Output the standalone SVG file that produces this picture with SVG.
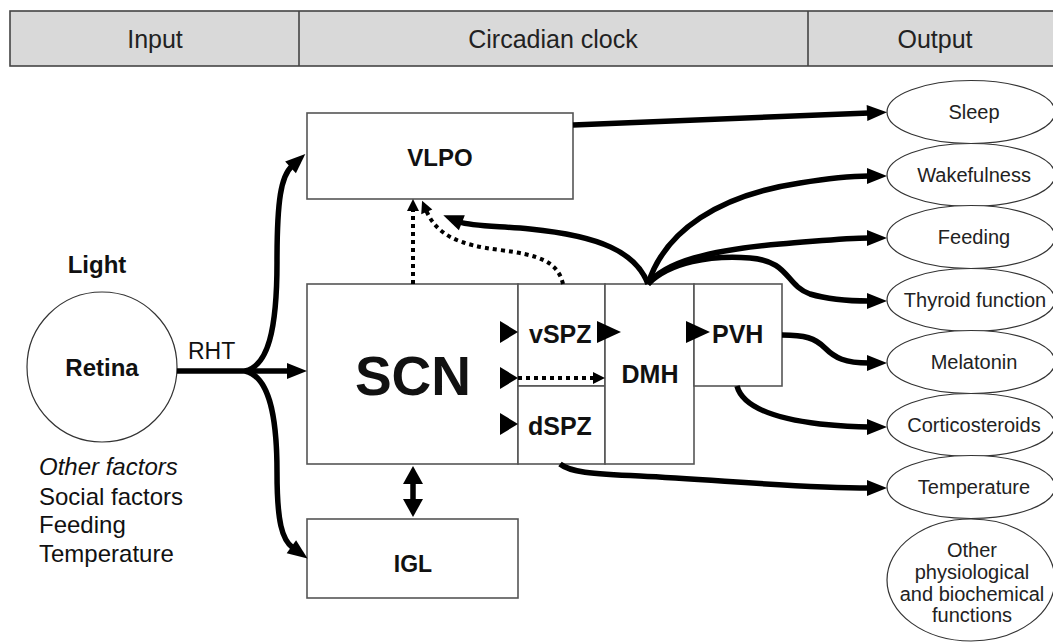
<svg xmlns="http://www.w3.org/2000/svg" width="1053" height="642" viewBox="0 0 1053 642">
<style>
text{font-family:"Liberation Sans",Arial,sans-serif;fill:#111}
.hd{font-size:25px;text-anchor:middle;fill:#222}
.box{fill:#fff;stroke:#555;stroke-width:1.6}
.b{font-weight:bold;text-anchor:middle}
.ell{fill:#fff;stroke:#333;stroke-width:1.2}
.et{font-size:20px;text-anchor:middle;fill:#222}
.thick{fill:none;stroke:#000;stroke-width:5.5}
.dot{fill:none;stroke:#000;stroke-width:4;stroke-dasharray:4 4}
.tri{fill:#000}
</style>
<defs>
<marker id="ah" markerUnits="userSpaceOnUse" markerWidth="22" markerHeight="18" refX="2" refY="8" orient="auto" overflow="visible"><path d="M0,0 L20,8 L0,16 z" fill="#000"/></marker>
<marker id="ah2" markerUnits="userSpaceOnUse" markerWidth="22" markerHeight="22" refX="2" refY="10" orient="auto-start-reverse" overflow="visible"><path d="M0,0 L18,10 L0,20 z" fill="#000"/></marker>
<marker id="ahs" markerUnits="userSpaceOnUse" markerWidth="14" markerHeight="14" refX="2" refY="6" orient="auto" overflow="visible"><path d="M0,0 L12,6 L0,12 z" fill="#000"/></marker>
</defs>

<g id="header">
<rect x="10" y="11" width="1060" height="55" fill="#d9d9d9" stroke="#444" stroke-width="1.6"/>
<line x1="299" y1="11" x2="299" y2="66" stroke="#444" stroke-width="1.6"/>
<line x1="808" y1="11" x2="808" y2="66" stroke="#444" stroke-width="1.6"/>
<text class="hd" x="155" y="48">Input</text>
<text class="hd" x="553" y="48">Circadian clock</text>
<text class="hd" x="935" y="48">Output</text>
</g>

<g id="light"><text class="b" x="97" y="273" font-size="24">Light</text></g>
<g id="retina">
<circle cx="102" cy="367" r="75" fill="#fff" stroke="#333" stroke-width="1.2"/>
<text class="b" x="102" y="376" font-size="24">Retina</text>
</g>
<g id="rht"><text x="188" y="359" font-size="23">RHT</text></g>
<g id="other-factors" font-size="24">
<text x="39" y="475" font-style="italic">Other factors</text>
<text x="39" y="505">Social factors</text>
<text x="39" y="533">Feeding</text>
<text x="39" y="562">Temperature</text>
</g>

<g id="vlpo"><rect class="box" x="307" y="113" width="266" height="86"/><text class="b" x="440" y="166" font-size="24">VLPO</text></g>
<g id="scn"><rect class="box" x="307" y="284" width="211" height="180"/><text class="b" x="413" y="395" font-size="55">SCN</text></g>
<g id="vspz"><rect class="box" x="518" y="284" width="87" height="102"/><text x="529" y="343" font-size="25" font-weight="bold">vSPZ</text></g>
<g id="dspz"><rect class="box" x="518" y="386" width="87" height="78"/><text x="528" y="435" font-size="25" font-weight="bold">dSPZ</text></g>
<g id="dmh"><rect class="box" x="605" y="284" width="89" height="180"/><text class="b" x="650" y="383" font-size="25">DMH</text></g>
<g id="pvh"><rect class="box" x="694" y="284" width="88" height="102"/><text x="712" y="343" font-size="25" font-weight="bold">PVH</text></g>
<g id="igl"><rect class="box" x="307" y="519" width="211" height="79"/><text class="b" x="413" y="572" font-size="23">IGL</text></g>

<g id="out-sleep"><ellipse class="ell" cx="971" cy="112" rx="84" ry="31.5"/><text class="et" x="974" y="119">Sleep</text></g>
<g id="out-wakefulness"><ellipse class="ell" cx="971" cy="175" rx="84" ry="31.5"/><text class="et" x="974" y="182">Wakefulness</text></g>
<g id="out-feeding"><ellipse class="ell" cx="971" cy="237" rx="84" ry="31.5"/><text class="et" x="974" y="244">Feeding</text></g>
<g id="out-thyroid"><ellipse class="ell" cx="971" cy="300" rx="84" ry="31.5"/><text class="et" x="975" y="307">Thyroid function</text></g>
<g id="out-melatonin"><ellipse class="ell" cx="971" cy="362" rx="84" ry="31.5"/><text class="et" x="974" y="369">Melatonin</text></g>
<g id="out-corticosteroids"><ellipse class="ell" cx="971" cy="425" rx="84" ry="31.5"/><text class="et" x="974" y="432">Corticosteroids</text></g>
<g id="out-temperature"><ellipse class="ell" cx="971" cy="487" rx="84" ry="31.5"/><text class="et" x="974" y="494">Temperature</text></g>
<g id="out-other"><ellipse class="ell" cx="971" cy="580" rx="84" ry="61"/>
<text class="et" x="972" y="557">Other</text>
<text class="et" x="972" y="579">physiological</text>
<text class="et" x="972" y="601">and biochemical</text>
<text class="et" x="972" y="622">functions</text>
</g>

<g id="connectors">
<path class="thick" d="M177,371 L245,371"/>
<path class="thick" d="M245,371 L289,371" marker-end="url(#ah)"/>
<path class="thick" d="M245,371 C268,366 277,330 277,262 C277,200 281,176 292,166" marker-end="url(#ah)"/>
<path class="thick" d="M245,371 C268,376 277,412 277,472 C277,522 282,540 293,548" marker-end="url(#ah)"/>
<path class="thick" d="M413,482 L413,501" marker-start="url(#ah2)" marker-end="url(#ah2)"/>
<path class="dot" d="M413,284 L413,209" marker-end="url(#ahs)"/>
<path class="dot" d="M563,284 C558,262 540,255 500,250 C460,245 437,236 426,210" marker-end="url(#ahs)"/>
<path class="dot" d="M518,378 L595,378" marker-end="url(#ahs)"/>
<path class="thick" d="M573,125 L869,113" marker-end="url(#ah)"/>
<path class="thick" d="M648,284 C636,252 600,236 530,229 C495,226 470,226 460,222" marker-end="url(#ah)"/>
<path class="thick" d="M648,284 C665,230 720,195 800,183 C830,178 850,176 869,176" marker-end="url(#ah)"/>
<path class="thick" d="M648,284 C665,262 710,250 780,244 C820,241 845,238 869,238" marker-end="url(#ah)"/>
<path class="thick" d="M648,284 C670,262 710,255 750,258 C790,261 785,285 810,294 C830,300 850,301 869,301" marker-end="url(#ah)"/>
<path class="thick" d="M782,335 C805,335 815,338 825,348 C835,358 845,363 869,363" marker-end="url(#ah)"/>
<path class="thick" d="M737,386 C742,405 770,418 820,424 C840,426 855,427 869,427" marker-end="url(#ah)"/>
<path class="thick" d="M560,464 C570,472 590,474 640,476 C720,480 800,488 869,488" marker-end="url(#ah)"/>
<polygon class="tri" points="500,321 518,332 500,343"/>
<polygon class="tri" points="500,367 518,378 500,389"/>
<polygon class="tri" points="500,413 518,424 500,435"/>
<polygon class="tri" points="597,321 621,332 597,343"/>
<polygon class="tri" points="686,321 710,332 686,343"/>
</g>
</svg>
